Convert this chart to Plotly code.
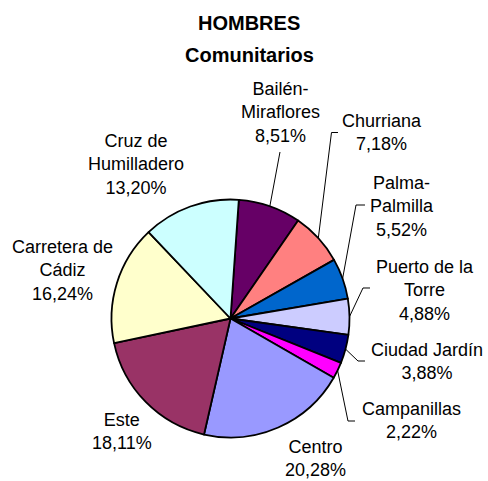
import math
import plotly.graph_objects as go

# ---- data ----
categories = ["Bailén-Miraflores", "Churriana", "Palma-Palmilla", "Puerto de la Torre",
              "Ciudad Jardín", "Campanillas", "Centro", "Este",
              "Carretera de Cádiz", "Cruz de Humilladero"]
values = [8.51, 7.18, 5.52, 4.88, 3.88, 2.22, 20.28, 18.11, 16.24, 13.20]
label_text = ["Bailén-<br>Miraflores", "Churriana", "Palma-<br>Palmilla", "Puerto de la<br>Torre",
              "Ciudad Jardín", "Campanillas", "Centro", "Este",
              "Carretera de<br>Cádiz", "Cruz de<br>Humilladero"]
colors = ["#660066", "#FF8080", "#0066CC", "#CCCCFF", "#000080",
          "#FF00FF", "#9999FF", "#993366", "#FFFFCC", "#CCFFFF"]
title_lines = ["HOMBRES", "Comunitarios"]

# ---- layout constants (pixels) ----
W, H = 488, 481
CX, CY, R = 230.5, 318.5, 119.0
ROT = 4
# label block centres (px)
label_pos = [(280, 112), (382, 133), (402, 206), (425, 290), (427, 361),
             (411, 420), (315, 458), (122, 431), (62, 270), (136, 165)]
# label-side leader points (px), None = no leader
leader_pts = [
    [(280, 152)],
    [(338, 132.5), (331.5, 132.5)],
    [(365, 205), (356, 205)],
    [(370, 288), (363, 288)],
    [(365, 361), (358, 361)],
    [(355, 421), (348, 421)],
    None, None, None, None,
]

def X(px):
    return px / W

def Y(py):
    return 1 - py / H

fig = go.Figure(go.Pie(
    labels=categories, values=values, sort=False, direction="clockwise",
    rotation=ROT, marker=dict(colors=colors, line=dict(color="black", width=1.8)),
    textinfo="none", showlegend=False,
    domain=dict(x=[X(CX - R), X(CX + R)], y=[Y(CY + R), Y(CY - R)]),
))

annotations = []
font = dict(family="Liberation Sans, Arial, sans-serif", size=18, color="black")
for txt, v, (px, py) in zip(label_text, values, label_pos):
    pct = f"{v:.2f}".replace(".", ",") + "%"
    annotations.append(dict(x=X(px), y=Y(py), xref="paper", yref="paper",
                            text=f"{txt}<br>{pct}", showarrow=False, font=font,
                            xanchor="center", yanchor="middle", align="center"))

tfont = dict(family="Liberation Sans, Arial, sans-serif", size=20, color="black")
for t, py in zip(title_lines, [23, 55]):
    annotations.append(dict(x=X(249), y=Y(py), xref="paper", yref="paper",
                            text=f"<b>{t}</b>", showarrow=False, font=tfont,
                            xanchor="center", yanchor="middle"))

shapes = []
total = sum(values)
cum = 0.0
for v, pts in zip(values, leader_pts):
    mid = math.radians(ROT + (cum + v / 2) / total * 360)
    cum += v
    if pts is None:
        continue
    ex, ey = CX + R * math.sin(mid), CY - R * math.cos(mid)
    all_pts = pts + [(ex, ey)]
    path = "M " + " L ".join(f"{X(a):.5f},{Y(b):.5f}" for a, b in all_pts)
    shapes.append(dict(type="path", xref="paper", yref="paper", path=path,
                       line=dict(color="black", width=1)))

fig.update_layout(width=W, height=H, margin=dict(l=0, r=0, t=0, b=0),
                  paper_bgcolor="white", plot_bgcolor="white",
                  annotations=annotations, shapes=shapes)
fig.write_html("out.html", config={"displayModeBar": False},
               post_script="document.body.style.margin='0';document.body.style.overflow='hidden';")
